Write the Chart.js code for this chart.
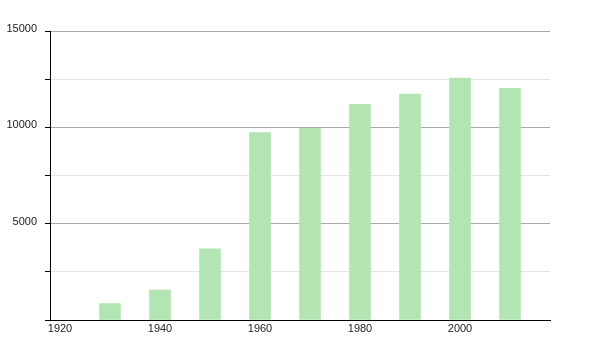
<!DOCTYPE html>
<html>
<head>
<meta charset="utf-8">
<script src="https://cdn.jsdelivr.net/npm/chart.js@4/dist/chart.umd.min.js"></script>
<style>
    html, body { margin: 0; padding: 0; background: #fff; }
    #wrap { width: 600px; height: 350px; }
</style>
</head>
<body>
<div id="wrap"><canvas id="chart_canvas"></canvas></div>
<script>
    // population by census year
    var years = [1930, 1940, 1950, 1960, 1970, 1980, 1990, 2000, 2010];
    var values = [850, 1560, 3700, 9730, 9950, 11200, 11720, 12550, 12020];
    var x_tick_years = [1920, 1940, 1960, 1980, 2000];
    var y_label_values = [5000, 10000, 15000];

    var points = [];
    for (var i = 0; i < years.length; i++) {
        points.push({ x: years[i], y: values[i] });
    }

    var label_font = { family: 'Liberation Sans, Arial, sans-serif', size: 11 };

    var ctx = document.getElementById('chart_canvas').getContext('2d');
    new Chart(ctx, {
        type: 'bar',
        data: {
            datasets: [{
                data: points,
                backgroundColor: 'rgb(178, 229, 178)',
                borderWidth: 0,
                barThickness: 21
            }]
        },
        options: {
            responsive: true,
            maintainAspectRatio: false,
            animation: false,
            layout: { padding: { top: 31, right: 50, left: 0, bottom: 0 } },
            plugins: {
                legend: { display: false },
                tooltip: { enabled: false }
            },
            scales: {
                x: {
                    type: 'linear',
                    offset: false,
                    min: 1918,
                    max: 2018,
                    afterBuildTicks: function (scale) {
                        scale.ticks = x_tick_years.map(function (v) { return { value: v }; });
                    },
                    afterFit: function (scale) { scale.height = 30; },
                    grid: { display: false, drawTicks: false },
                    border: { display: true, color: '#000', width: 1 },
                    ticks: {
                        padding: 2,
                        maxRotation: 0,
                        autoSkip: false,
                        color: '#222',
                        font: label_font,
                        callback: function (v) { return String(v); }
                    }
                },
                y: {
                    min: 0,
                    max: 15000,
                    afterFit: function (scale) { scale.width = 50; },
                    border: { display: true, color: '#000', width: 1 },
                    grid: {
                        color: function (c) {
                            return y_label_values.indexOf(c.tick.value) >= 0 ? '#aaaaaa' : '#e4e4e4';
                        },
                        tickColor: '#000',
                        tickLength: 5
                    },
                    ticks: {
                        stepSize: 2500,
                        padding: 8,
                        labelOffset: -2,
                        color: '#222',
                        font: label_font,
                        callback: function (v) {
                            return y_label_values.indexOf(v) >= 0 ? String(v) : '';
                        }
                    }
                }
            }
        }
    });
</script>
</body>
</html>
